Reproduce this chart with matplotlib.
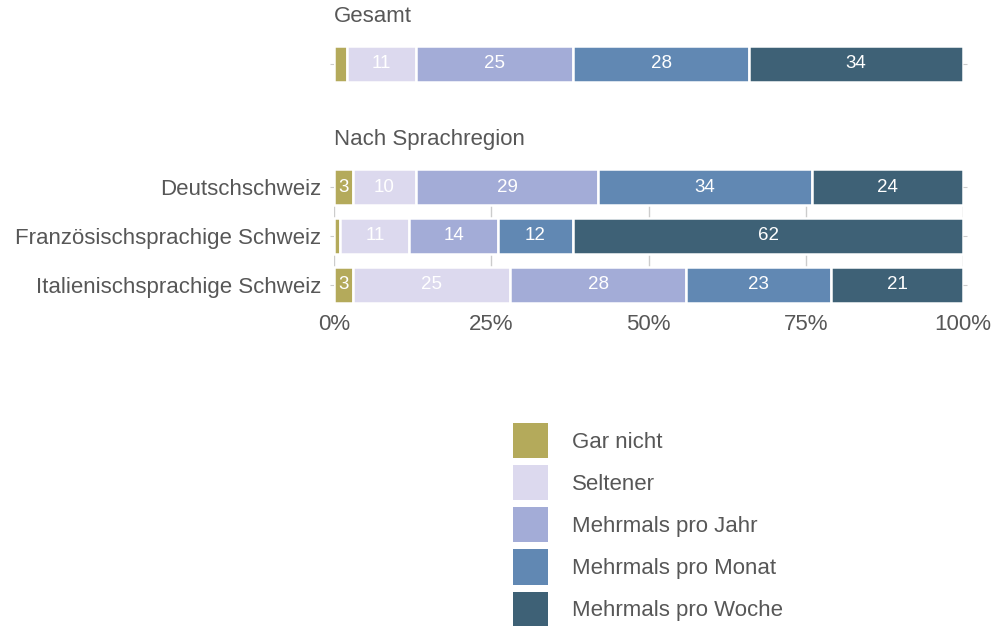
import matplotlib.pyplot as plt
from matplotlib.patches import Patch
import numpy as np

plt.rcParams['font.family'] = ['Liberation Sans', 'DejaVu Sans']

categories = ['Gar nicht', 'Seltener', 'Mehrmals pro Jahr', 'Mehrmals pro Monat', 'Mehrmals pro Woche']
colors = ['#b4aa5b', '#dcd9ee', '#a3acd7', '#6188b3', '#3e6176']

total_label = 'Gesamt'
total_values = [2, 11, 25, 28, 34]

regions = ['Deutschschweiz', 'Französischsprachige Schweiz', 'Italienischsprachige Schweiz']
region_values = [
    [3, 10, 29, 34, 24],
    [1, 11, 14, 12, 62],
    [3, 25, 28, 23, 21],
]

xticks = [0, 25, 50, 75, 100]
xticklabels = ['0%', '25%', '50%', '75%', '100%']

text_color = '#575757'
W, H = 998, 626


def stacked(ax, rows, names):
    data = np.array(rows, dtype=float)
    y = np.arange(len(rows))
    left = np.zeros(len(rows))
    for j, cat in enumerate(categories):
        vals = data[:, j]
        bars = ax.barh(y, vals, left=left, height=0.74, color=colors[j],
                       edgecolor='white', linewidth=1.8, zorder=2)
        for b, v in zip(bars, vals):
            if v >= 3:
                ax.text(b.get_x() + b.get_width() / 2, b.get_y() + b.get_height() / 2,
                        f'{v:.0f}', ha='center', va='center', color='white',
                        fontsize=13.5, zorder=3)
        left += vals
    ax.set_xlim(0, 100)
    ax.set_ylim(len(rows) - 1 + 0.37, -0.37)
    ax.set_yticks(y)
    ax.set_yticklabels(names)
    for s in ax.spines.values():
        s.set_visible(False)
    ax.tick_params(axis='y', length=3, color='#cccccc', right=True, left=True,
                   labelsize=16, labelcolor=text_color, pad=6)


fig = plt.figure(figsize=(W / 100, H / 100), dpi=100)

x0, x1 = 334 / W, 963 / W
ax_top = fig.add_axes([x0, 1 - 82 / H, x1 - x0, 36.5 / H])
stacked(ax_top, [total_values], [''])
ax_top.set_xticks([])

ax_bot = fig.add_axes([x0, 1 - 303 / H, x1 - x0, 134 / H])
stacked(ax_bot, region_values, regions)
ax_bot.set_xticks(xticks)
ax_bot.set_xticklabels(xticklabels)
ax_bot.tick_params(axis='x', length=0, labelsize=16, labelcolor=text_color, pad=8)
ax_bot.grid(axis='x', color='#cccccc', linewidth=1, zorder=0)
ax_bot.set_axisbelow(True)

fig.text(x0, 1 - 17 / H, 'Gesamt', ha='left', va='center', fontsize=16, color=text_color)
fig.text(x0, 1 - 140 / H, 'Nach Sprachregion', ha='left', va='center', fontsize=16, color=text_color)

handles = [Patch(facecolor=c, edgecolor='none') for c in colors]
fig.legend(handles, categories, loc='upper left', bbox_to_anchor=(513 / W, 1 - 423 / H),
           frameon=False, fontsize=16, labelcolor=text_color, borderpad=0, borderaxespad=0,
           handlelength=1.58, handleheight=2.05, labelspacing=0.32, handletextpad=1.08)

fig.savefig('out.png', dpi=100)
